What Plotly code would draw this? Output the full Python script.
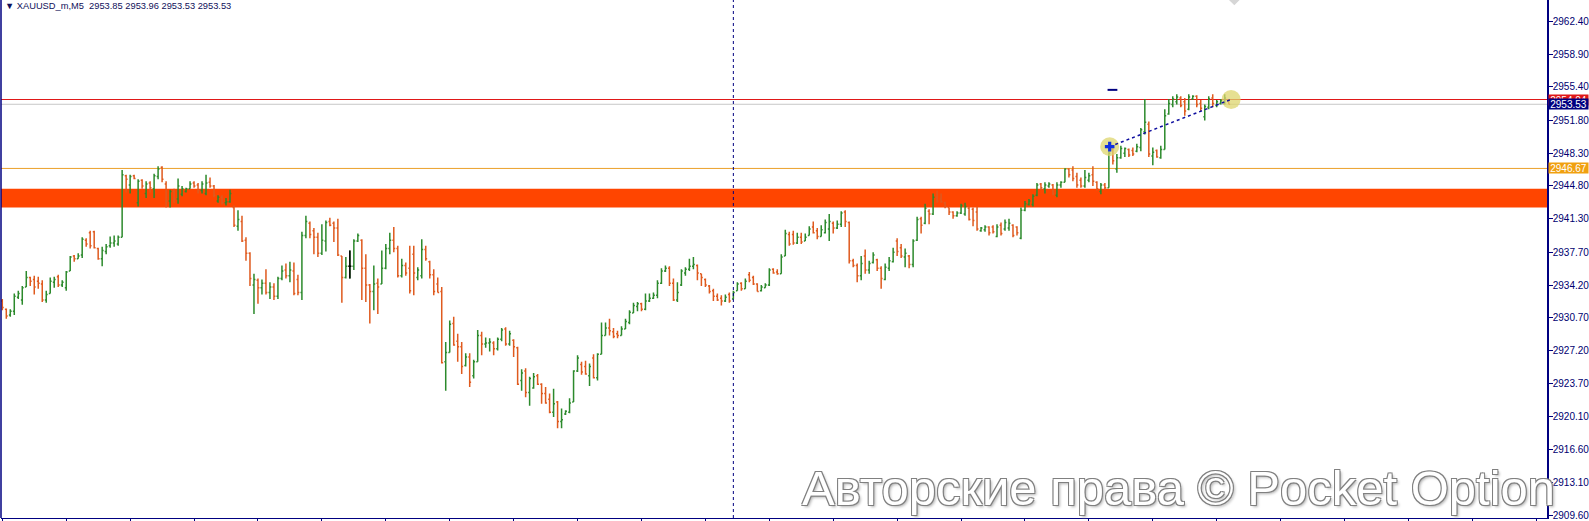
import plotly.graph_objects as go

# ---------------- data ----------------
symbol = "XAUUSD_m,M5"

opens = [
2932.5, 2931.6, 2931.0, 2931.4, 2932.9, 2932.6, 2934.0, 2935.0, 2934.8, 2934.6,
2934.3, 2932.6, 2933.3, 2934.5, 2935.1, 2934.2, 2933.9, 2935.7, 2937.3, 2937.0,
2937.4, 2939.0, 2939.8, 2939.9, 2938.1, 2937.0, 2937.8, 2938.4, 2938.7, 2938.6,
2939.3, 2945.9, 2944.9, 2945.9, 2943.0, 2945.4, 2944.0, 2945.1, 2944.5, 2945.8,
2946.8, 2945.0, 2943.2, 2944.2, 2943.4, 2943.9, 2944.2, 2944.5, 2945.1, 2944.9,
2944.3, 2944.0, 2945.2, 2944.8, 2943.2, 2943.6, 2943.0, 2943.1, 2942.5, 2940.5,
2941.0, 2939.0, 2937.6, 2934.2, 2934.7, 2933.9, 2934.4, 2933.4, 2934.0, 2933.0,
2934.9, 2935.8, 2935.2, 2935.7, 2934.8, 2933.4, 2939.5, 2940.8, 2940.0, 2939.3,
2937.6, 2938.9, 2941.0, 2940.8, 2940.3, 2937.3, 2935.0, 2936.2, 2936.2, 2938.9,
2939.0, 2936.0, 2934.2, 2933.5, 2934.4, 2934.3, 2936.0, 2938.1, 2939.0, 2938.1,
2935.2, 2936.3, 2936.0, 2937.5, 2935.0, 2935.2, 2938.0, 2936.7, 2935.3, 2934.3,
2933.5, 2926.0, 2927.0, 2930.1, 2928.2, 2927.6, 2925.6, 2926.5, 2924.5, 2926.0,
2928.8, 2927.9, 2928.0, 2928.0, 2927.4, 2928.4, 2929.5, 2927.9, 2928.3, 2927.5,
2924.0, 2925.0, 2922.7, 2923.2, 2924.5, 2923.6, 2922.6, 2922.0, 2920.6, 2921.7,
2919.6, 2920.4, 2920.6, 2921.7, 2925.0, 2925.7, 2925.5, 2924.5, 2926.4, 2924.3,
2926.8, 2928.8, 2929.6, 2929.2, 2929.0, 2928.8, 2929.5, 2930.2, 2931.2, 2931.9,
2932.2, 2931.6, 2932.5, 2932.8, 2933.1, 2934.4, 2935.7, 2936.0, 2934.4, 2932.6,
2934.2, 2935.5, 2935.9, 2936.2, 2936.3, 2935.4, 2934.8, 2934.1, 2933.6, 2933.0,
2932.8, 2932.5, 2933.2, 2932.7, 2933.6, 2934.4, 2933.8, 2935.3, 2935.0, 2934.3,
2933.6, 2933.9, 2934.2, 2935.9, 2935.6, 2935.4, 2937.3, 2939.6, 2939.6, 2938.7,
2939.3, 2938.9, 2939.5, 2940.4, 2940.0, 2939.4, 2939.8, 2940.2, 2940.8, 2940.3,
2940.7, 2942.0, 2940.9, 2936.8, 2936.3, 2935.2, 2937.3, 2935.8, 2936.6, 2936.9,
2936.0, 2934.8, 2936.0, 2936.7, 2938.9, 2938.2, 2937.2, 2937.3, 2936.4, 2939.0,
2941.3, 2940.8, 2942.1, 2941.8, 2943.6, 2943.4, 2943.0, 2942.5, 2942.0, 2941.6,
2941.9, 2941.8, 2942.4, 2942.3, 2942.0, 2940.0, 2940.1, 2940.4, 2940.4, 2939.4,
2940.6, 2940.2, 2940.3, 2940.6, 2940.4, 2939.2, 2942.2, 2942.8, 2942.8, 2943.8,
2945.0, 2944.5, 2944.8, 2944.9, 2943.8, 2944.9, 2945.2, 2946.6, 2946.5, 2945.8,
2945.4, 2944.8, 2945.4, 2946.0, 2945.2, 2944.2, 2944.9, 2944.6, 2948.7, 2946.6,
2947.8, 2948.3, 2948.7, 2948.6, 2948.5, 2948.9, 2950.6, 2951.4, 2948.0, 2948.6,
2947.8, 2948.7, 2952.5, 2953.5, 2953.8, 2954.2, 2953.8, 2953.0, 2954.1, 2954.4,
2953.6, 2952.2, 2953.2, 2954.2, 2953.4, 2953.6, 2953.6, 2953.85]

highs = [
2932.7, 2931.7, 2931.6, 2933.3, 2933.6, 2934.1, 2935.7, 2935.1, 2935.2, 2935.1,
2934.7, 2933.6, 2935.0, 2935.1, 2935.3, 2934.7, 2935.7, 2937.3, 2937.4, 2937.6,
2939.3, 2939.2, 2940.0, 2940.0, 2938.2, 2938.3, 2938.6, 2939.4, 2939.5, 2939.5,
2946.5, 2946.0, 2946.0, 2946.0, 2945.5, 2945.5, 2945.3, 2945.3, 2946.1, 2946.9,
2946.9, 2945.3, 2944.4, 2944.5, 2945.6, 2944.8, 2944.6, 2945.3, 2945.3, 2945.1,
2945.3, 2946.0, 2945.7, 2944.9, 2943.8, 2943.8, 2943.5, 2944.4, 2942.7, 2942.2,
2941.6, 2939.3, 2937.7, 2935.4, 2934.9, 2934.8, 2935.9, 2934.5, 2934.4, 2935.1,
2936.3, 2936.5, 2936.7, 2936.6, 2935.3, 2939.9, 2941.6, 2941.0, 2940.3, 2939.8,
2940.7, 2941.1, 2941.4, 2941.0, 2941.3, 2937.3, 2937.2, 2937.9, 2939.1, 2939.7,
2939.1, 2937.5, 2934.3, 2936.3, 2934.9, 2937.9, 2938.6, 2939.8, 2940.4, 2938.4,
2937.0, 2936.6, 2938.4, 2938.4, 2936.1, 2939.1, 2938.4, 2936.8, 2935.9, 2935.0,
2934.0, 2928.1, 2930.4, 2930.8, 2929.0, 2928.1, 2926.9, 2926.9, 2926.2, 2929.4,
2929.2, 2928.6, 2928.5, 2928.2, 2928.6, 2929.6, 2929.7, 2929.3, 2928.4, 2927.6,
2925.2, 2925.3, 2924.4, 2924.8, 2924.7, 2923.7, 2923.3, 2922.6, 2923.1, 2921.8,
2921.0, 2920.8, 2922.1, 2925.1, 2926.7, 2926.0, 2926.1, 2925.8, 2926.8, 2926.9,
2930.2, 2930.2, 2930.6, 2929.6, 2929.3, 2929.8, 2930.6, 2931.5, 2932.3, 2932.4,
2932.3, 2933.3, 2933.3, 2933.4, 2934.7, 2936.0, 2936.3, 2936.2, 2934.9, 2934.5,
2935.9, 2936.1, 2937.0, 2937.2, 2936.4, 2935.4, 2934.9, 2934.2, 2933.8, 2933.3,
2933.1, 2933.2, 2933.4, 2933.6, 2934.5, 2934.5, 2934.9, 2935.6, 2935.2, 2934.4,
2934.2, 2934.4, 2936.0, 2936.0, 2935.9, 2937.5, 2940.1, 2939.9, 2940.0, 2939.8,
2939.8, 2939.7, 2940.5, 2941.0, 2940.3, 2940.6, 2941.2, 2941.8, 2941.0, 2941.1,
2942.1, 2942.2, 2941.0, 2937.0, 2936.5, 2937.3, 2938.0, 2936.8, 2937.7, 2937.0,
2936.2, 2936.5, 2937.2, 2938.2, 2939.2, 2938.6, 2938.1, 2937.4, 2939.1, 2941.5,
2941.5, 2942.9, 2942.3, 2944.0, 2944.3, 2944.0, 2943.1, 2942.5, 2942.1, 2942.1,
2942.9, 2943.0, 2942.6, 2942.5, 2942.6, 2940.4, 2940.6, 2940.5, 2940.6, 2940.7,
2940.9, 2941.2, 2941.3, 2940.7, 2940.5, 2942.5, 2943.2, 2943.4, 2943.9, 2945.1,
2945.1, 2945.2, 2945.2, 2945.0, 2945.2, 2945.3, 2946.7, 2946.7, 2946.9, 2946.2,
2945.7, 2946.5, 2946.2, 2946.9, 2945.3, 2945.1, 2945.1, 2948.5, 2948.9, 2948.2,
2949.1, 2948.9, 2948.8, 2948.9, 2949.3, 2951.0, 2954.1, 2951.7, 2948.9, 2948.7,
2949.1, 2953.0, 2954.1, 2954.4, 2954.6, 2954.4, 2954.2, 2954.6, 2954.5, 2954.5,
2954.0, 2953.5, 2954.4, 2954.6, 2954.0, 2954.1, 2954.6, 2953.96]

lows = [
2931.5, 2930.6, 2930.8, 2931.0, 2932.7, 2932.1, 2934.0, 2934.1, 2933.2, 2933.8,
2932.4, 2932.3, 2933.3, 2933.9, 2934.0, 2934.0, 2933.6, 2935.7, 2936.7, 2937.0,
2937.1, 2938.3, 2938.1, 2938.1, 2936.9, 2936.2, 2937.5, 2938.2, 2938.3, 2938.4,
2939.3, 2944.1, 2944.0, 2945.5, 2942.6, 2944.5, 2943.5, 2944.1, 2943.5, 2945.5,
2945.2, 2942.5, 2942.5, 2943.0, 2942.9, 2943.7, 2944.1, 2944.5, 2944.6, 2944.0,
2944.0, 2943.8, 2944.6, 2943.6, 2943.0, 2942.8, 2942.7, 2943.0, 2940.4, 2940.0,
2938.8, 2936.8, 2934.1, 2931.1, 2932.2, 2933.2, 2933.2, 2932.7, 2932.6, 2932.7,
2934.7, 2934.9, 2934.5, 2933.1, 2933.1, 2932.6, 2939.2, 2939.2, 2937.5, 2937.2,
2937.4, 2937.8, 2940.5, 2938.8, 2937.3, 2932.3, 2934.9, 2934.9, 2935.8, 2938.8,
2932.6, 2932.4, 2930.1, 2931.5, 2931.1, 2934.3, 2935.9, 2937.5, 2937.7, 2935.0,
2935.0, 2935.2, 2933.3, 2933.1, 2934.7, 2934.9, 2936.8, 2934.9, 2933.1, 2933.4,
2925.8, 2922.9, 2927.0, 2927.7, 2926.0, 2924.7, 2925.5, 2923.3, 2924.2, 2926.0,
2926.7, 2927.5, 2927.1, 2926.7, 2927.2, 2928.2, 2927.7, 2927.7, 2926.5, 2923.5,
2922.9, 2922.2, 2921.3, 2923.1, 2923.5, 2921.5, 2921.5, 2920.5, 2920.1, 2918.9,
2918.9, 2920.3, 2920.5, 2921.7, 2924.9, 2924.6, 2924.6, 2923.4, 2924.2, 2924.0,
2926.8, 2928.8, 2928.8, 2928.5, 2928.5, 2928.8, 2929.5, 2930.0, 2931.2, 2931.4,
2931.4, 2931.5, 2932.4, 2932.7, 2932.8, 2934.3, 2935.6, 2934.1, 2932.5, 2932.4,
2934.1, 2935.2, 2935.7, 2935.9, 2934.7, 2934.1, 2934.0, 2933.3, 2932.5, 2932.5,
2932.0, 2932.4, 2932.3, 2932.7, 2933.6, 2933.6, 2933.8, 2934.5, 2934.2, 2933.5,
2933.5, 2933.9, 2934.1, 2935.4, 2935.3, 2935.4, 2937.3, 2938.4, 2938.5, 2938.6,
2938.6, 2938.9, 2939.5, 2939.7, 2939.1, 2939.4, 2939.7, 2938.9, 2939.7, 2940.2,
2940.4, 2940.4, 2936.5, 2936.1, 2934.5, 2934.7, 2935.4, 2935.4, 2936.5, 2935.7,
2933.8, 2934.7, 2935.7, 2936.6, 2937.3, 2937.1, 2936.1, 2936.0, 2936.1, 2938.9,
2939.7, 2940.7, 2940.7, 2941.7, 2943.0, 2943.0, 2942.4, 2941.7, 2941.3, 2941.5,
2941.8, 2941.6, 2941.1, 2940.5, 2940.0, 2939.9, 2939.9, 2939.5, 2939.7, 2939.3,
2939.5, 2940.0, 2940.0, 2939.3, 2939.5, 2939.1, 2942.1, 2942.7, 2942.6, 2943.7,
2944.4, 2944.0, 2944.6, 2943.8, 2943.6, 2944.6, 2945.2, 2945.7, 2945.3, 2944.6,
2944.6, 2944.6, 2945.2, 2944.8, 2944.3, 2943.9, 2944.4, 2944.6, 2947.1, 2946.2,
2947.7, 2947.9, 2947.9, 2948.0, 2948.4, 2948.5, 2950.3, 2947.9, 2947.0, 2947.8,
2947.7, 2948.7, 2952.4, 2953.2, 2953.5, 2953.2, 2952.3, 2952.9, 2954.0, 2953.2,
2952.8, 2951.8, 2953.0, 2953.2, 2953.2, 2953.5, 2953.5, 2953.53]

closes = [
2931.8, 2930.9, 2931.4, 2933.0, 2933.3, 2933.9, 2935.0, 2934.6, 2934.0, 2934.4,
2932.6, 2933.2, 2934.6, 2934.8, 2934.2, 2934.5, 2935.6, 2937.2, 2937.0, 2937.3,
2939.1, 2938.6, 2938.4, 2938.2, 2937.0, 2937.9, 2938.3, 2938.7, 2938.9, 2939.3,
2946.0, 2945.5, 2945.8, 2945.6, 2945.3, 2944.8, 2945.0, 2944.6, 2945.9, 2946.6,
2945.5, 2943.2, 2944.2, 2943.4, 2944.8, 2944.5, 2944.5, 2945.0, 2944.8, 2944.3,
2945.0, 2945.1, 2944.8, 2943.8, 2943.6, 2943.0, 2943.1, 2944.0, 2940.6, 2941.2,
2938.9, 2937.6, 2934.9, 2934.8, 2933.9, 2934.4, 2933.4, 2934.0, 2933.0, 2934.9,
2935.7, 2935.2, 2935.8, 2933.3, 2933.4, 2939.5, 2941.0, 2939.6, 2939.3, 2937.6,
2939.0, 2940.9, 2940.6, 2940.3, 2937.4, 2935.0, 2936.2, 2936.2, 2938.9, 2939.5,
2936.0, 2934.2, 2933.5, 2934.3, 2934.0, 2936.0, 2938.1, 2939.0, 2938.1, 2935.2,
2936.3, 2935.5, 2933.6, 2935.5, 2935.8, 2938.0, 2937.0, 2935.3, 2933.5, 2933.4,
2925.9, 2927.0, 2930.0, 2927.8, 2927.6, 2925.5, 2926.5, 2923.8, 2926.0, 2928.8,
2927.9, 2928.0, 2928.1, 2927.4, 2928.4, 2929.4, 2927.9, 2929.0, 2927.6, 2923.6,
2924.8, 2922.7, 2924.2, 2924.4, 2923.6, 2922.6, 2921.6, 2920.6, 2921.5, 2919.6,
2919.8, 2920.7, 2921.6, 2925.0, 2926.4, 2924.9, 2924.7, 2925.5, 2924.3, 2926.8,
2928.8, 2929.6, 2929.3, 2928.7, 2928.8, 2929.5, 2930.3, 2931.3, 2932.0, 2932.2,
2931.6, 2932.5, 2932.8, 2933.1, 2934.4, 2935.7, 2936.0, 2934.4, 2932.6, 2933.4,
2935.7, 2935.9, 2936.2, 2936.4, 2935.5, 2935.0, 2934.2, 2933.5, 2933.0, 2932.6,
2932.5, 2932.9, 2932.5, 2933.4, 2934.3, 2933.8, 2934.6, 2934.7, 2934.3, 2933.5,
2934.0, 2934.2, 2935.8, 2935.5, 2935.4, 2937.2, 2939.7, 2938.6, 2938.7, 2939.3,
2938.8, 2939.3, 2940.2, 2939.8, 2939.4, 2940.1, 2940.9, 2941.0, 2940.3, 2940.7,
2941.9, 2941.0, 2936.8, 2936.3, 2935.2, 2936.5, 2935.8, 2936.5, 2937.4, 2936.0,
2934.9, 2936.1, 2936.8, 2937.7, 2937.8, 2937.3, 2937.6, 2936.4, 2938.9, 2941.2,
2940.6, 2942.4, 2941.8, 2943.6, 2943.2, 2943.1, 2942.6, 2942.0, 2941.6, 2941.9,
2942.7, 2942.6, 2941.2, 2941.1, 2940.2, 2940.3, 2940.4, 2939.8, 2939.9, 2940.4,
2939.7, 2940.9, 2940.8, 2939.5, 2939.8, 2942.2, 2942.9, 2943.2, 2943.7, 2944.9,
2944.6, 2944.9, 2945.0, 2944.0, 2944.9, 2945.2, 2946.6, 2946.0, 2945.6, 2944.9,
2944.8, 2945.7, 2945.9, 2945.3, 2944.5, 2944.9, 2944.6, 2948.3, 2947.5, 2947.8,
2948.8, 2948.8, 2948.1, 2948.2, 2949.0, 2950.8, 2951.6, 2948.2, 2948.4, 2947.9,
2948.7, 2952.3, 2953.6, 2954.1, 2954.3, 2953.4, 2952.8, 2954.3, 2954.4, 2953.5,
2953.1, 2953.3, 2954.1, 2953.6, 2953.8, 2953.9, 2954.2, 2953.53]

# horizontal levels / zone
resistance_level = 2954.04
bid_level = 2953.53
support_level = 2946.67
zone_low, zone_high = 2942.5, 2944.5

# vertical separator bar, trend line anchors, small markers
separator_bar = 183
trend_x = [277.2, 307.6]
trend_y = [2949.0, 2954.05]
dash_mark = (277.9, 2955.07)
diamond_mark = (308.4, 2964.95)

# right axis labels
ytick_text = ["2962.40", "2958.90", "2955.40", "2951.80", "2948.30", "2944.80",
              "2941.30", "2937.70", "2934.20", "2930.70", "2927.20", "2923.70",
              "2920.10", "2916.60", "2913.10", "2909.60"]
ytick_vals = [float(t) for t in ytick_text]

watermark = "Авторские права © Pocket Option"

# ---------------- figure ----------------
W, H = 1589, 521
ML, MR, MT, MB = 1, 40, 0, 2
NAVY = "#000080"
BULL = "#2C8A2C"
BEAR = "#DF5A1E"

x_idx = list(range(len(opens)))
y_range = [2909.29, 2964.68]
x_range = [-0.325, 386.675]

fig = go.Figure()

# yellow highlight circles (behind bars)
fig.add_trace(go.Scatter(
    x=trend_x, y=trend_y, mode="markers",
    marker=dict(size=19, color="rgba(222,214,110,0.75)", line=dict(width=0)),
    hoverinfo="skip", showlegend=False))

fig.add_trace(go.Ohlc(
    x=x_idx, open=opens, high=highs, low=lows, close=closes,
    increasing=dict(line=dict(color=BULL, width=1.5)),
    decreasing=dict(line=dict(color=BEAR, width=1.5)),
    tickwidth=0.35, hoverinfo="skip", showlegend=False))

# doji bars drawn in black
dj = [i for i in x_idx if opens[i] == closes[i]]
fig.add_trace(go.Ohlc(
    x=dj, open=[opens[i] for i in dj], high=[highs[i] for i in dj],
    low=[lows[i] for i in dj], close=[closes[i] for i in dj],
    increasing=dict(line=dict(color="black", width=1.5)),
    decreasing=dict(line=dict(color="black", width=1.5)),
    tickwidth=0.35, hoverinfo="skip", showlegend=False))

# dotted trend line
fig.add_trace(go.Scatter(
    x=trend_x, y=trend_y, mode="lines",
    line=dict(color="#1010A0", width=1.5, dash="dot"),
    hoverinfo="skip", showlegend=False))

# blue cross at start of trend line
fig.add_trace(go.Scatter(
    x=[trend_x[0]], y=[trend_y[0]], mode="markers",
    marker=dict(symbol="cross", size=8, color="#1030E0", line=dict(width=0)),
    hoverinfo="skip", showlegend=False))

# small navy dash
fig.add_trace(go.Scatter(
    x=[dash_mark[0]], y=[dash_mark[1]], mode="markers",
    marker=dict(symbol="line-ew", size=7, line=dict(color=NAVY, width=2)),
    hoverinfo="skip", showlegend=False))

# gray diamond clipped at top
fig.add_trace(go.Scatter(
    x=[diamond_mark[0]], y=[diamond_mark[1]], mode="markers",
    marker=dict(symbol="diamond", size=12, color="#D6D6D6", line=dict(width=0)),
    hoverinfo="skip", showlegend=False))

shapes = [
    dict(type="rect", xref="paper", yref="y", x0=0, x1=1, y0=zone_low, y1=zone_high,
         fillcolor="#FF4500", line=dict(width=0), layer="below"),
    dict(type="line", xref="paper", yref="y", x0=0, x1=1, y0=bid_level, y1=bid_level,
         line=dict(color="#C8C8C8", width=1), layer="below"),
    dict(type="line", xref="paper", yref="y", x0=0, x1=1,
         y0=resistance_level, y1=resistance_level,
         line=dict(color="#E01818", width=1), layer="below"),
    dict(type="line", xref="paper", yref="y", x0=0, x1=1,
         y0=support_level, y1=support_level,
         line=dict(color="#EBA02A", width=1), layer="below"),
    dict(type="line", xref="x", yref="paper", x0=separator_bar, x1=separator_bar,
         y0=0, y1=1, line=dict(color=NAVY, width=1, dash="3px,3px"), layer="above"),
    dict(type="line", xref="paper", yref="paper", x0=0, x1=0, y0=0, y1=1,
         line=dict(color=NAVY, width=1.5)),
]

FONT = "Liberation Sans"
annotations = [
    dict(text=f"▼ {symbol}  {opens[-1]:.2f} {highs[-1]:.2f} {lows[-1]:.2f} {closes[-1]:.2f}",
         xref="paper", yref="paper", x=0, y=1, xanchor="left", yanchor="top",
         xshift=2, yshift=1, showarrow=False,
         font=dict(family=FONT, size=9.3, color="#10105A")),
]
for val, bg in [(resistance_level, "#E01818"), (bid_level, "#000080"),
                (support_level, "#F0A010")]:
    annotations.append(dict(
        text=f"{val:.2f}", xref="paper", yref="y", x=1, y=val,
        xanchor="left", yanchor="middle", xshift=1, showarrow=False,
        bgcolor=bg, width=39, height=10, borderpad=0, align="center",
        font=dict(family=FONT, size=10, color="white")))

annotations.append(dict(
    text=watermark, xref="paper", yref="paper",
    x=(1180 - ML) / (W - ML - MR), y=(H - MB - 489) / (H - MB - MT),
    xanchor="center", yanchor="middle", showarrow=False,
    font=dict(family=FONT, size=49, color="white",
              shadow="1px 1px 0px #808080, -1px -1px 0px #808080, 1px -1px 0px #808080, "
                     "-1px 1px 0px #808080, 2px 2px 3px #B0B0B0")))

fig.update_layout(
    width=W, height=H,
    margin=dict(l=ML, r=MR, t=MT, b=MB, pad=0),
    paper_bgcolor="white", plot_bgcolor="white",
    showlegend=False,
    shapes=shapes, annotations=annotations,
    xaxis=dict(range=x_range, showgrid=False, zeroline=False,
               showticklabels=False, ticks="outside", tickmode="linear",
               tick0=0, dtick=16, ticklen=3, tickcolor=NAVY,
               showline=True, linecolor=NAVY, linewidth=1,
               rangeslider=dict(visible=False), fixedrange=True),
    yaxis=dict(range=y_range, side="right", showgrid=False, zeroline=False,
               tickmode="array", tickvals=ytick_vals, ticktext=ytick_text,
               ticks="outside", ticklen=4, tickcolor=NAVY,
               ticklabeloverflow="allow", ticklabelstandoff=-2,
               showline=True, linecolor=NAVY, linewidth=1.5,
               tickfont=dict(family=FONT, size=10, color="#000070"),
               fixedrange=True),
)

fig.write_html(
    "out.html",
    config={"displayModeBar": False},
    post_script="document.body.style.margin='0';document.body.style.padding='0';"
                "document.body.style.overflow='hidden';",
)
